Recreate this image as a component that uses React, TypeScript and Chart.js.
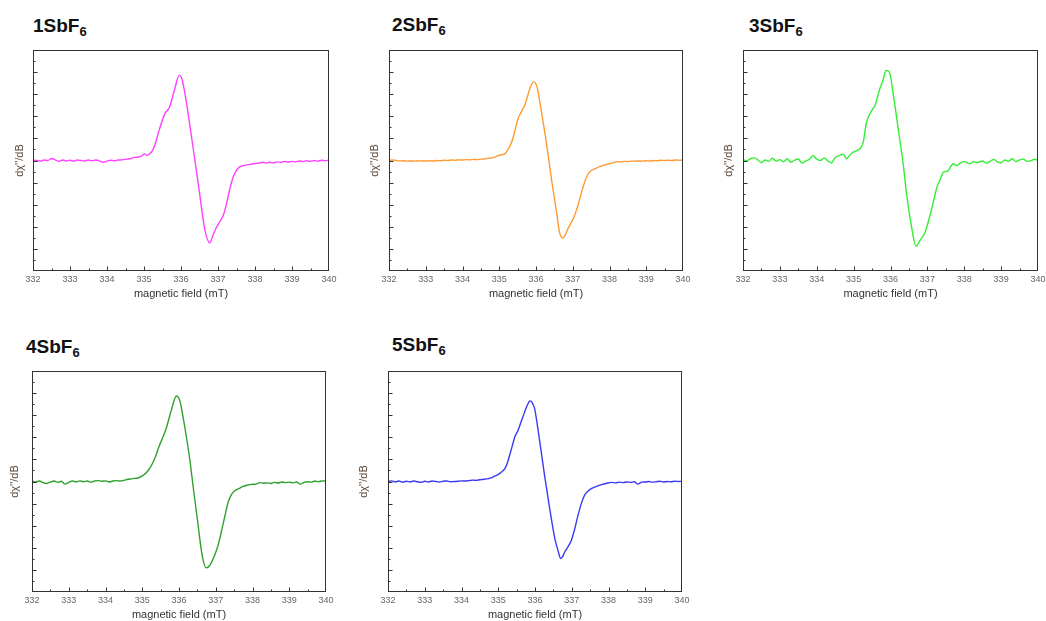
import React, { useEffect, useRef } from 'react';
import { Chart, registerables } from 'chart.js';

Chart.register(...registerables);

const FONT = "'Liberation Sans', Arial, Helvetica, sans-serif";

// ---------- shared axis values ----------
const xTickMajor = [333, 334, 335, 336, 337, 338, 339];
const xTickMinor = [332.5, 333.5, 334.5, 335.5, 336.5, 337.5, 338.5, 339.5];
const yTickMajor = [-4, -3, -2, -1, 0, 1, 2, 3, 4];
const yTickMinor = [-4.5, -3.5, -2.5, -1.5, -0.5, 0.5, 1.5, 2.5, 3.5, 4.5];

// ---------- shared field grids (mT) ----------
const leftField = [
  332.0, 332.1, 332.2, 332.3, 332.4, 332.5, 332.6, 332.7, 332.8, 332.9,
  333.0, 333.1, 333.2, 333.3, 333.4, 333.5, 333.6, 333.7, 333.8, 333.9,
  334.0, 334.1, 334.2, 334.3, 334.4, 334.5,
];
const tailField3 = [338.3, 338.4, 338.5, 338.6, 338.7, 338.8, 338.9, 339.0, 339.1, 339.2, 339.3, 339.4, 339.5, 339.6, 339.7, 339.8, 339.9, 340.0];
const tailField4 = [338.4, 338.5, 338.6, 338.7, 338.8, 338.9, 339.0, 339.1, 339.2, 339.3, 339.4, 339.5, 339.6, 339.7, 339.8, 339.9, 340.0];
const tailField5 = [338.5, 338.6, 338.7, 338.8, 338.9, 339.0, 339.1, 339.2, 339.3, 339.4, 339.5, 339.6, 339.7, 339.8, 339.9, 340.0];

// ---------- 1SbF6 ----------
const left1 = [0.02, 0.0, -0.03, 0.02, 0.0, 0.09, 0.03, -0.04, 0.02, -0.02, 0.01, -0.03, 0.02, 0.0, -0.02, 0.02, -0.01, 0.02, -0.02, -0.08, -0.03, 0.01, -0.01, 0.02, 0.03, 0.05];
const sigField1 = [334.61, 334.75, 334.85, 334.93, 335.02, 335.08, 335.15, 335.22, 335.29, 335.42, 335.56, 335.69, 335.83, 335.95, 336.01, 336.10, 336.24, 336.37, 336.51, 336.64, 336.78, 336.86, 336.96, 337.05, 337.14, 337.23, 337.32, 337.41, 337.48, 337.58, 337.68, 337.80, 337.95, 338.10, 338.22];
const sigInt1 = [0.08, 0.14, 0.16, 0.20, 0.30, 0.23, 0.30, 0.42, 0.68, 1.43, 2.11, 2.41, 3.24, 3.85, 3.77, 3.09, 1.58, 0.08, -1.58, -3.09, -3.73, -3.39, -3.02, -2.76, -2.49, -1.96, -1.28, -0.75, -0.50, -0.30, -0.23, -0.20, -0.15, -0.12, -0.08];
const tail1 = [-0.12, -0.08, -0.11, -0.06, -0.09, -0.04, -0.07, -0.04, -0.06, -0.02, -0.05, -0.01, -0.04, 0.0, -0.03, 0.01, -0.01, 0.02];

// ---------- 2SbF6 ----------
const left2 = [0.01, 0.02, 0.0, -0.02, -0.01, -0.03, -0.02, -0.03, -0.01, -0.02, -0.02, -0.01, -0.02, 0.0, -0.01, 0.01, 0.0, 0.02, 0.01, 0.03, 0.02, 0.04, 0.03, 0.05, 0.04, 0.06];
const sigField2 = [334.60, 334.70, 334.80, 334.88, 334.97, 335.06, 335.15, 335.24, 335.33, 335.42, 335.51, 335.60, 335.69, 335.76, 335.83, 335.94, 336.03, 336.09, 336.15, 336.28, 336.42, 336.56, 336.64, 336.73, 336.80, 336.87, 336.96, 337.05, 337.15, 337.24, 337.33, 337.42, 337.50, 337.60, 337.73, 337.87, 338.05, 338.23];
const sigInt2 = [0.07, 0.10, 0.12, 0.15, 0.22, 0.26, 0.30, 0.50, 0.80, 1.30, 1.89, 2.20, 2.49, 2.85, 3.24, 3.57, 3.32, 2.80, 2.19, 0.83, -0.83, -2.34, -3.24, -3.51, -3.35, -3.09, -2.80, -2.49, -1.98, -1.43, -0.95, -0.60, -0.46, -0.38, -0.28, -0.20, -0.12, -0.05];
const tail2 = [-0.06, -0.04, -0.05, -0.03, -0.03, -0.02, -0.03, -0.01, -0.02, 0.0, -0.01, 0.01, 0.0, 0.01, 0.0, 0.02, 0.01, 0.02];

// ---------- 3SbF6 ----------
const left3 = [0.05, -0.02, 0.08, 0.12, 0.03, -0.10, 0.02, -0.04, 0.10, -0.03, 0.04, -0.06, 0.08, -0.08, 0.02, 0.07, -0.12, -0.02, 0.05, 0.22, 0.06, 0.0, 0.12, -0.02, -0.10, 0.14];
const sigField3 = [334.63, 334.72, 334.81, 334.90, 334.99, 335.08, 335.17, 335.26, 335.35, 335.49, 335.58, 335.71, 335.80, 335.88, 335.97, 336.08, 336.21, 336.35, 336.44, 336.58, 336.69, 336.80, 336.94, 337.07, 337.16, 337.26, 337.35, 337.43, 337.50, 337.57, 337.64, 337.71, 337.80, 337.90, 338.02, 338.09, 338.16, 338.25, 338.32, 338.39];
const sigInt3 = [0.23, 0.29, 0.08, 0.25, 0.38, 0.45, 0.53, 0.83, 1.73, 2.26, 2.49, 3.24, 3.65, 4.07, 4.00, 2.94, 1.43, -0.23, -1.58, -3.09, -3.88, -3.62, -3.24, -2.49, -1.90, -1.21, -0.85, -0.53, -0.50, -0.45, -0.25, -0.15, -0.23, -0.10, -0.05, -0.12, -0.15, -0.04, -0.10, -0.08];
const tail3 = [-0.02, -0.12, -0.04, 0.05, -0.06, -0.10, 0.02, -0.03, 0.08, -0.05, 0.03, 0.06, -0.04, -0.02, 0.05, 0.02];

// ---------- 4SbF6 ----------
const left4 = [0.03, -0.02, 0.02, -0.05, -0.09, -0.03, 0.02, -0.04, 0.01, -0.12, -0.04, 0.02, -0.02, 0.03, -0.01, 0.02, -0.03, 0.02, 0.04, 0.01, 0.03, -0.02, 0.02, 0.04, 0.02, 0.05];
const sigField4 = [334.61, 334.70, 334.80, 334.88, 335.02, 335.11, 335.20, 335.34, 335.47, 335.56, 335.65, 335.79, 335.93, 336.02, 336.08, 336.15, 336.29, 336.38, 336.52, 336.63, 336.74, 336.84, 336.97, 337.06, 337.15, 337.25, 337.34, 337.43, 337.52, 337.63, 337.74, 337.85, 337.97, 338.10, 338.20, 338.30];
const sigInt4 = [0.10, 0.12, 0.14, 0.16, 0.28, 0.40, 0.58, 1.04, 1.64, 2.00, 2.39, 3.22, 3.87, 3.67, 3.20, 2.54, 1.04, -0.17, -1.98, -3.34, -3.91, -3.79, -3.34, -2.90, -2.29, -1.55, -0.93, -0.58, -0.42, -0.32, -0.22, -0.17, -0.13, -0.12, -0.05, -0.08];
const tail4 = [-0.06, -0.09, -0.04, -0.07, -0.02, -0.05, -0.03, -0.06, -0.02, -0.12, -0.04, -0.01, -0.03, 0.02, -0.01, 0.03, 0.02];

// ---------- 5SbF6 ----------
const left5 = [0.0, 0.03, -0.02, 0.02, -0.03, 0.01, -0.02, 0.02, -0.01, -0.04, 0.01, -0.02, 0.02, 0.0, -0.02, 0.01, 0.02, -0.01, 0.0, 0.01, 0.03, 0.02, 0.04, 0.06, 0.05, 0.08];
const sigField5 = [334.63, 334.72, 334.81, 334.90, 334.99, 335.08, 335.18, 335.25, 335.31, 335.38, 335.45, 335.54, 335.60, 335.67, 335.74, 335.81, 335.86, 335.90, 335.95, 335.99, 336.06, 336.13, 336.26, 336.40, 336.54, 336.63, 336.70, 336.75, 336.81, 336.90, 336.99, 337.08, 337.17, 337.26, 337.35, 337.44, 337.53, 337.67, 337.81, 337.95, 338.08, 338.20, 338.30];
const sigInt5 = [0.10, 0.13, 0.16, 0.24, 0.31, 0.42, 0.58, 0.85, 1.19, 1.60, 2.01, 2.32, 2.60, 2.92, 3.25, 3.52, 3.65, 3.63, 3.48, 3.30, 2.60, 1.79, 0.28, -1.23, -2.58, -3.15, -3.49, -3.40, -3.19, -2.95, -2.66, -2.15, -1.53, -1.00, -0.62, -0.44, -0.32, -0.22, -0.14, -0.08, -0.04, -0.06, -0.03];
const tail5 = [-0.05, -0.02, -0.04, -0.01, -0.12, -0.03, -0.02, 0.0, -0.03, -0.01, 0.01, -0.02, 0.0, -0.01, 0.01, 0.0, 0.01];

type Panel = {
  num: string;
  color: string;
  field: number[];
  intensity: number[];
  plot: [number, number, number, number]; // left, top, right, bottom
  title: [number, number]; // x, baseline
  yOff: number;
};

const panels: Panel[] = [
  { num: '1', color: '#ff40ff', field: [...leftField, ...sigField1, ...tailField3], intensity: [...left1, ...sigInt1, ...tail1], plot: [33, 50, 329, 271], title: [33, 32], yOff: 13 },
  { num: '2', color: '#ff9933', field: [...leftField, ...sigField2, ...tailField3], intensity: [...left2, ...sigInt2, ...tail2], plot: [389, 50, 683, 271], title: [392, 31], yOff: 14 },
  { num: '3', color: '#33ee33', field: [...leftField, ...sigField3, ...tailField5], intensity: [...left3, ...sigInt3, ...tail3], plot: [743, 50, 1038, 271], title: [749, 32], yOff: 14.5 },
  { num: '4', color: '#2fa02f', field: [...leftField, ...sigField4, ...tailField4], intensity: [...left4, ...sigInt4, ...tail4], plot: [32, 371, 326, 592], title: [26, 353], yOff: 17 },
  { num: '5', color: '#3a3af2', field: [...leftField, ...sigField5, ...tailField4], intensity: [...left5, ...sigInt5, ...tail5], plot: [388, 371, 682, 592], title: [392, 351], yOff: 24 },
];

const YW = 32;
const PT = 10;
const PR = 16;
const XH = 30;

const framePlugin = {
  id: 'frameTicks',
  afterDatasetsDraw(chart: any) {
    const { ctx, chartArea: a, scales } = chart;
    const xs = scales.x;
    const ys = scales.y;
    const L = Math.round(a.left) + 0.5;
    const R = Math.round(a.right) - 0.5;
    const T = Math.round(a.top) + 0.5;
    const B = Math.round(a.bottom) - 0.5;
    ctx.save();
    ctx.strokeStyle = '#333333';
    ctx.lineWidth = 1;
    ctx.strokeRect(L, T, R - L, B - T);
    ctx.beginPath();
    const xt = (v: number, len: number) => {
      const px = Math.round(xs.getPixelForValue(v)) + 0.5;
      ctx.moveTo(px, B);
      ctx.lineTo(px, B - len);
    };
    const yt = (v: number, len: number) => {
      const py = Math.round(ys.getPixelForValue(v)) + 0.5;
      ctx.moveTo(L, py);
      ctx.lineTo(L + len, py);
    };
    xTickMajor.forEach((v) => xt(v, 4));
    xTickMinor.forEach((v) => xt(v, 2));
    yTickMajor.forEach((v) => yt(v, 4));
    yTickMinor.forEach((v) => yt(v, 2));
    ctx.stroke();
    ctx.restore();
  },
};

function PanelChart({ p }: { p: Panel }) {
  const ref = useRef<HTMLCanvasElement>(null);
  const [l, t, r, b] = p.plot;
  const width = YW + (r - l) + PR;
  const height = PT + (b - t) + XH;
  useEffect(() => {
    if (!ref.current) return;
    const chart = new Chart(ref.current, {
      type: 'line',
      data: {
        datasets: [
          {
            data: p.field.map((x, i) => ({ x, y: p.intensity[i] })),
            borderColor: p.color,
            borderWidth: 1.4,
            pointRadius: 0,
            cubicInterpolationMode: 'monotone',
            fill: false,
          },
        ],
      },
      options: {
        responsive: false,
        animation: false,
        devicePixelRatio: 1,
        layout: { padding: { top: PT, right: PR, left: 0, bottom: 0 } },
        plugins: { legend: { display: false }, tooltip: { enabled: false } },
        scales: {
          x: {
            type: 'linear',
            min: 332,
            max: 340,
            grid: { display: false, drawTicks: false },
            border: { display: false },
            ticks: {
              stepSize: 1,
              autoSkip: false,
              maxRotation: 0,
              padding: 3,
              color: '#666666',
              font: { size: 9, family: FONT },
              callback: (v: any) => String(v),
            },
            title: {
              display: true,
              text: 'magnetic field (mT)',
              color: '#333333',
              font: { size: 11, family: FONT },
              padding: { top: 0, bottom: 0 },
            },
            afterFit: (s: any) => {
              s.height = XH;
            },
          },
          y: {
            type: 'linear',
            min: -5,
            max: 5,
            grid: { display: false, drawTicks: false },
            border: { display: false },
            ticks: { display: false },
            title: {
              display: true,
              text: "dχ''/dB",
              color: '#5a4636',
              font: { size: 11, family: FONT },
              padding: { top: Math.max(0, YW - p.yOff - 6.6), bottom: 0 },
            },
            afterFit: (s: any) => {
              s.width = YW;
            },
          },
        },
      } as any,
      plugins: [framePlugin],
    });
    return () => chart.destroy();
  }, []);
  return (
    <canvas
      ref={ref}
      width={width}
      height={height}
      style={{ position: 'absolute', left: l - YW, top: t - PT, width, height }}
    />
  );
}

export default function App() {
  return (
    <div
      style={{
        position: 'absolute',
        left: 0,
        top: 0,
        width: 1046,
        height: 621,
        overflow: 'hidden',
        background: '#ffffff',
      }}
    >
      {panels.map((p) => (
        <React.Fragment key={p.num}>
          <PanelChart p={p} />
          <div
            style={{
              position: 'absolute',
              left: p.title[0],
              top: p.title[1] - 16,
              fontFamily: FONT,
              fontWeight: 'bold',
              fontSize: 19,
              lineHeight: '19px',
              color: '#111111',
              whiteSpace: 'nowrap',
            }}
          >
            {p.num}SbF
            <span style={{ fontSize: 13, position: 'relative', top: 4 }}>6</span>
          </div>
        </React.Fragment>
      ))}
    </div>
  );
}
